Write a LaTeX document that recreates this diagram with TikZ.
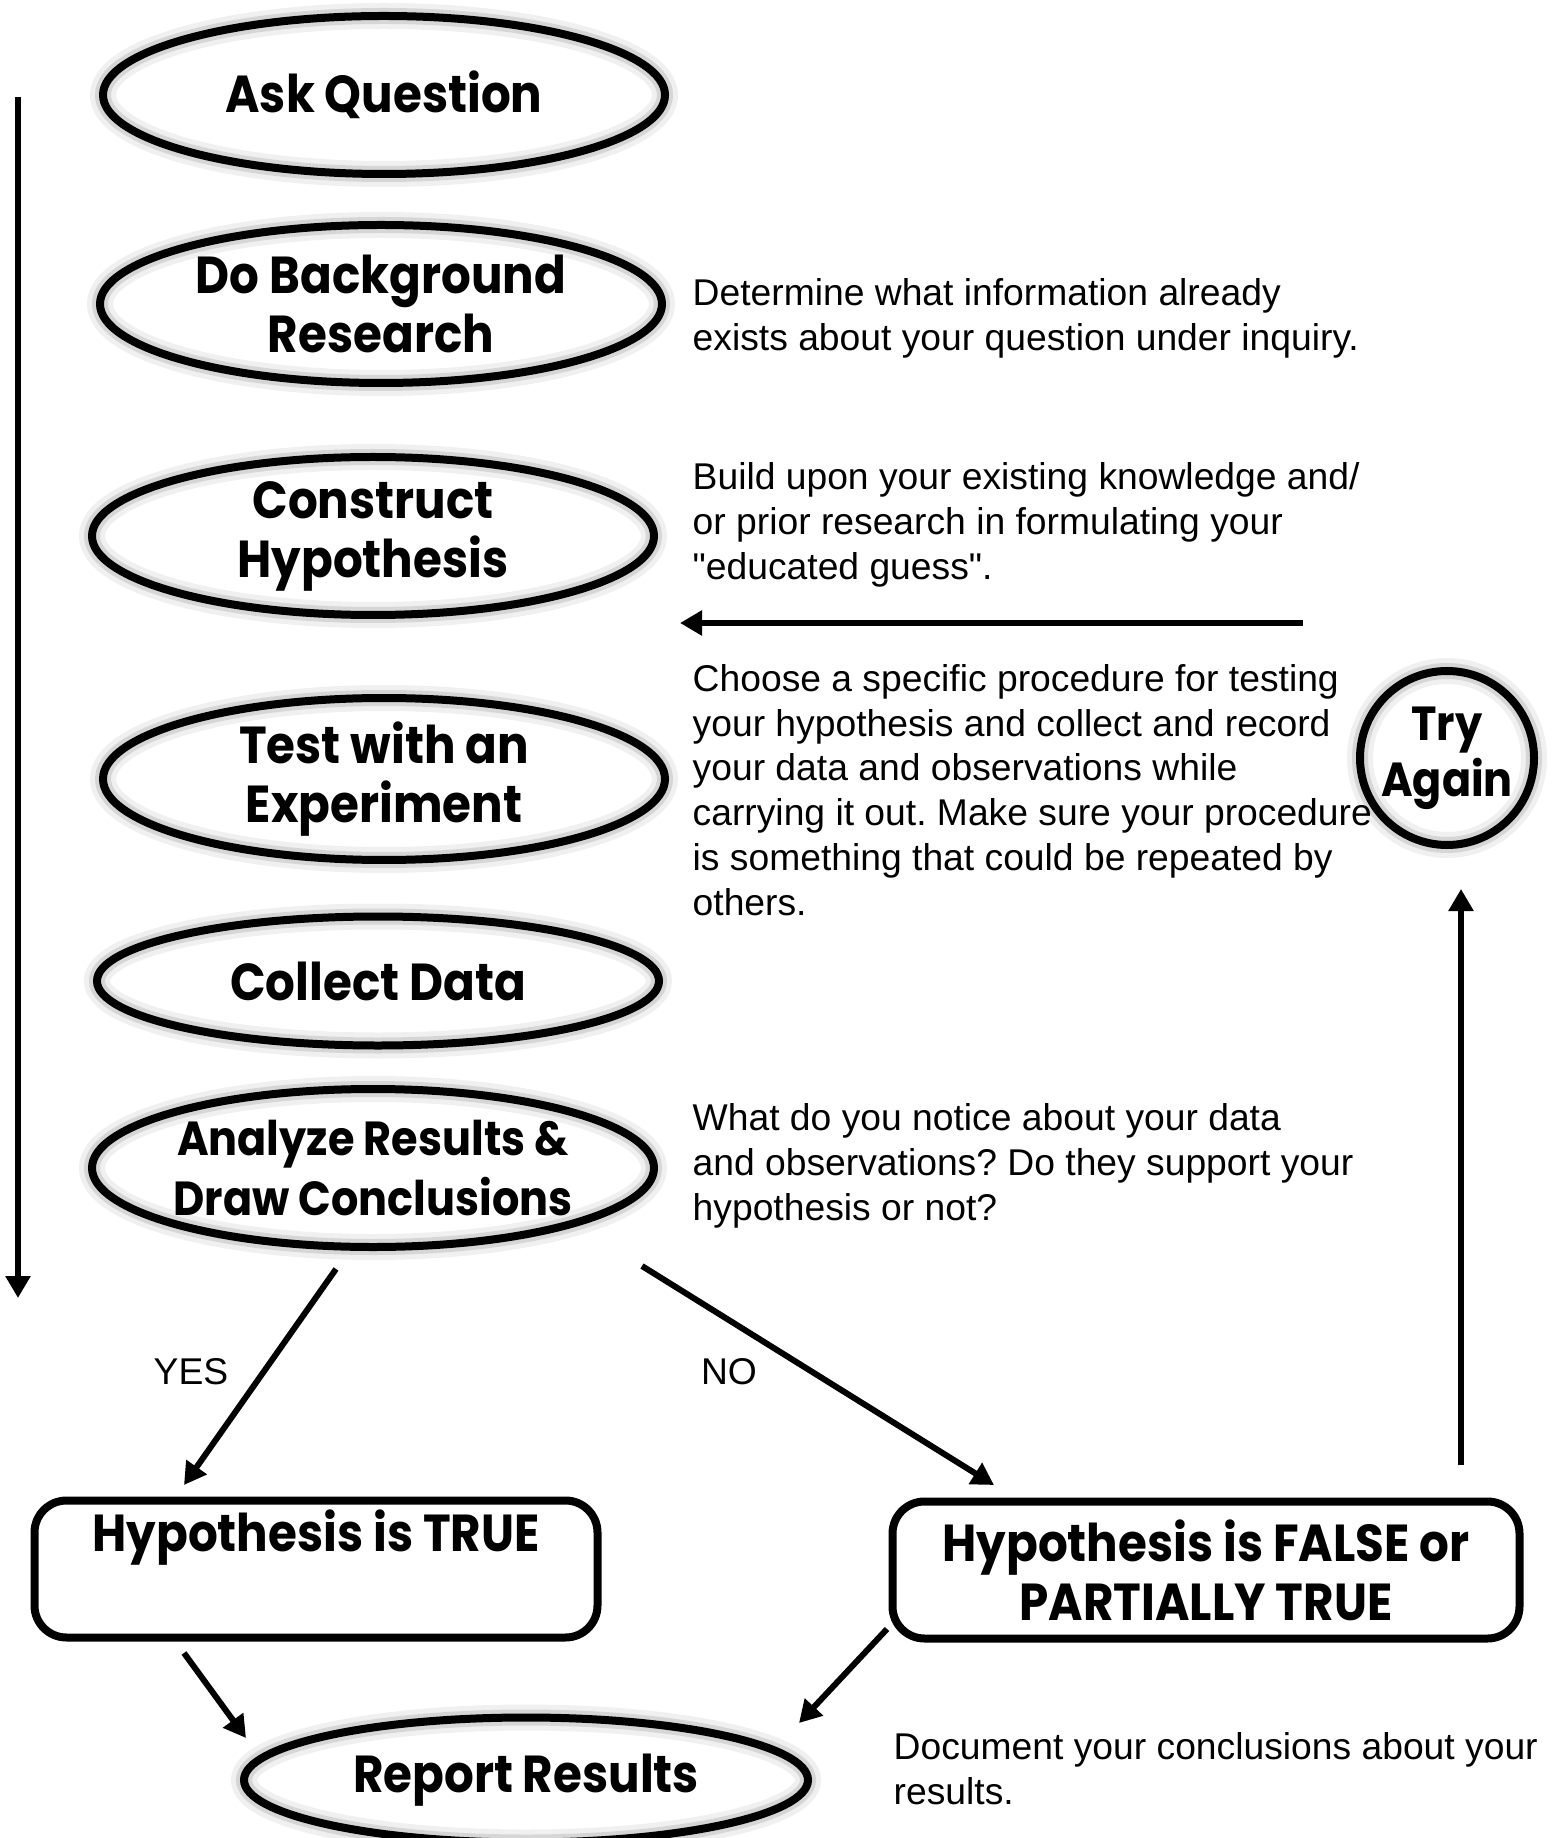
\documentclass[tikz,border=0pt]{standalone}
\usepackage{fontspec}
\setmainfont{Liberation Sans}
\newfontfamily\notefont{Liberation Sans}
\newfontfamily\stagefont{Poppins}[FakeStretch=0.9]
\usetikzlibrary{arrows.meta,positioning,shapes.geometric}
\frenchspacing

\tikzset{
  stage/.style={ellipse,draw,line width=0.8mm,minimum width=56.2mm,minimum height=15.8mm,
    inner sep=0pt,align=center,font=\stagefont\bfseries\fontsize{14.8}{16.8}\selectfont,
    preaction={draw=black!6,line width=2.6mm},
    preaction={draw=black!16,line width=1.6mm}},
  outcome/.style={rectangle,rounded corners=3.2mm,draw,line width=0.8mm,minimum width=56.3mm,
    minimum height=13.7mm,inner sep=0pt,align=center,font=\stagefont\bfseries\fontsize{14.8}{16.8}\selectfont},
  note/.style={anchor=west,align=left,inner sep=0pt,font=\notefont\fontsize{10.6}{12.75}\selectfont},
  flow/.style={line width=0.6mm,-{Triangle[length=2.2mm,width=2.4mm]}}
}

\begin{document}
\begin{tikzpicture}[x=0.1mm,y=-0.1mm]
  \useasboundingbox (0,0) rectangle (1555,1838);

  % steps down the left side
  \node[stage] (ask) at (384,95) {Ask Question};
  \node[stage] (research) at (381,304) {Do Background\\Research};
  \node[stage] (hypothesis) at (373,536) {Construct\\Hypothesis};
  \node[stage] (experiment) at (384,779) {Test with an\\Experiment};
  \node[stage,minimum height=12.9mm] (collect) at (378,981) {Collect Data};
  \node[stage,inner xsep=-2.5mm,font=\stagefont\bfseries\fontsize{13.6}{16.8}\selectfont]
    (analyze) at (373,1168) {Analyze Results \&\\Draw Conclusions};

  % outcomes
  \node[outcome] (true) at (316,1569) {Hypothesis is TRUE\\\strut};
  \node[outcome,minimum width=62.7mm] (false) at (1206,1570) {Hypothesis is FALSE or\\PARTIALLY TRUE};
  \node[stage,minimum width=56.4mm,minimum height=12.5mm] (report) at (526,1780) {Report Results};
  \node[stage,circle,inner sep=-1.5mm,minimum width=17.4mm,minimum height=17.4mm,
    font=\stagefont\bfseries\fontsize{13.6}{16}\selectfont] (again) at (1447,758) {Try\\Again};

  % notes on the right
  \node[note] (noteResearch) at (692,318) {Determine what information already\\exists about your question under inquiry.};
  \node[note] (noteHypothesis) at (692,525) {Build upon your existing knowledge and/\\or prior research in formulating your\\"educated guess".};
  \node[note] (noteExperiment) at (692,790) {Choose a specific procedure for testing\\your hypothesis and collect and record\\your data and observations while\\carrying it out. Make sure your procedure\\is something that could be repeated by\\others.};
  \node[note] (noteAnalyze) at (692,1166) {What do you notice about your data\\and observations? Do they support your\\hypothesis or not?};
  \node[note] (noteReport) at (893,1769) {Document your conclusions about your\\results.};

  % branch labels
  \node[font=\notefont\fontsize{10.6}{12.75}\selectfont] (yes) at (191,1372) {YES};
  \node[font=\notefont\fontsize{10.6}{12.75}\selectfont] (no) at (729,1372) {NO};

  % free ends of the arrows
  \coordinate (mainTop) at (18,97);
  \coordinate (mainBottom) at (18,1298);
  \coordinate (loopStart) at (1303,623);
  \coordinate (loopEnd) at (680,623);
  \coordinate (upStart) at (1461,1465);
  \coordinate (upEnd) at (1461,889);
  \coordinate (yesStart) at (336,1269);
  \coordinate (yesEnd) at (184,1485);
  \coordinate (noStart) at (642,1266);
  \coordinate (noEnd) at (994,1485);
  \coordinate (trueStart) at (184,1653);
  \coordinate (trueEnd) at (246,1738);
  \coordinate (falseStart) at (887,1629);
  \coordinate (falseEnd) at (799,1723);

  % arrows
  \draw[flow] (mainTop) -- (mainBottom);
  \draw[flow] (loopStart) -- (loopEnd);
  \draw[flow] (upStart) -- (upEnd);
  \draw[flow] (yesStart) -- (yesEnd);
  \draw[flow] (noStart) -- (noEnd);
  \draw[flow] (trueStart) -- (trueEnd);
  \draw[flow] (falseStart) -- (falseEnd);
\end{tikzpicture}
\end{document}
